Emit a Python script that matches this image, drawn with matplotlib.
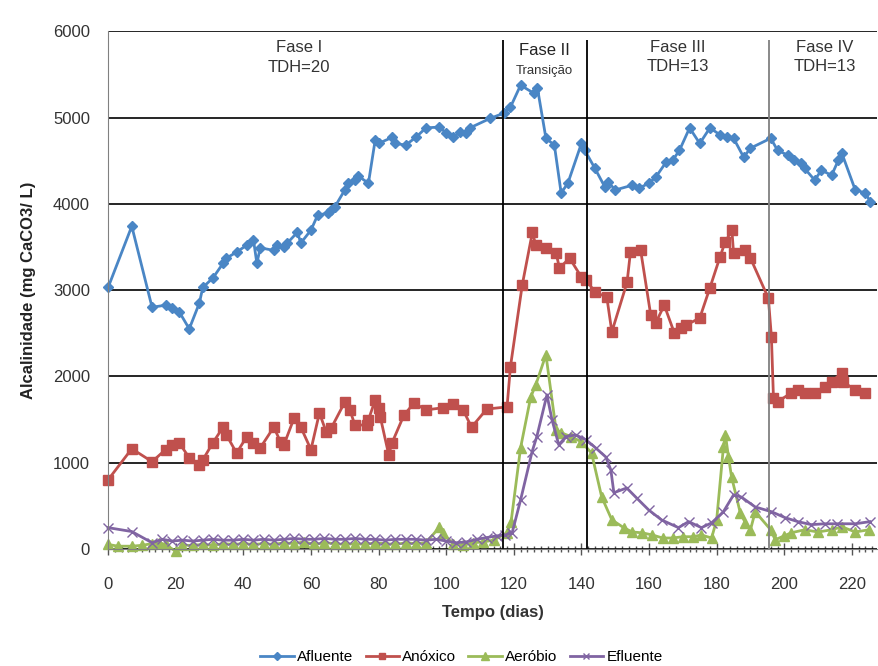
import matplotlib
matplotlib.use("Agg")
import matplotlib.pyplot as plt
from matplotlib.ticker import MultipleLocator

plt.rcParams['font.family'] = ['Liberation Sans', 'DejaVu Sans']

# dados
dias_af = [0, 7, 13, 17, 19, 21, 24, 27, 28, 31,
           34, 35, 38, 41, 43, 44, 45, 49, 50, 52,
           53, 56, 57, 60, 62, 65, 66, 67, 70, 71,
           73, 74, 77, 79, 80, 84, 85, 88, 91, 94,
           98, 100, 102, 104, 106, 107, 113, 117, 119, 122,
           126, 127, 129.5, 132, 134, 136, 140, 141, 144, 147,
           148, 150, 155, 157, 160, 162, 165, 167, 169, 172,
           175, 178, 181, 183, 185, 188, 190, 196, 198, 201,
           203, 205, 206, 209, 211, 214, 216, 217, 221, 224,
           225.5]
afluente = [3030, 3740, 2800, 2825, 2790, 2750, 2550, 2850, 3030, 3140,
            3310, 3370, 3440, 3520, 3580, 3310, 3490, 3460, 3520, 3500,
            3545, 3670, 3545, 3695, 3870, 3890, 3930, 3960, 4160, 4240,
            4275, 4320, 4240, 4740, 4700, 4770, 4700, 4680, 4770, 4880,
            4890, 4820, 4770, 4830, 4820, 4880, 4990, 5050, 5120, 5375,
            5280, 5340, 4760, 4680, 4125, 4240, 4700, 4620, 4410, 4190,
            4250, 4160, 4215, 4180, 4240, 4310, 4480, 4505, 4620, 4880,
            4700, 4880, 4800, 4770, 4760, 4540, 4645, 4760, 4620, 4565,
            4505, 4470, 4410, 4275, 4390, 4330, 4505, 4590, 4160, 4125,
            4020]

dias_an = [0, 7, 13, 17, 19, 21, 24, 27, 28, 31,
           34, 35, 38, 41, 43, 45, 49, 51, 52, 55,
           57, 60, 62.5, 64.5, 66, 70, 71.5, 73, 76.5, 77,
           79, 80, 80.5, 83, 84, 87.5, 90.5, 94, 99, 102,
           105, 107.5, 112, 118, 119, 122.5, 125.5, 126.5, 129.5, 132.5,
           133.5, 136.5, 140, 141.5, 144, 147.5, 149, 153.5, 154.5, 157.5,
           160.5, 162, 164.5, 167.5, 169.5, 171, 175, 178, 181, 182.5,
           184.5, 185, 188.5, 190, 195.3, 196.2, 196.8, 198, 202, 204,
           206, 209, 212, 214, 217, 217.5, 221, 224]
anoxico = [800, 1160, 1010, 1150, 1205, 1230, 1055, 975, 1030, 1230,
           1410, 1320, 1110, 1300, 1230, 1170, 1410, 1240, 1205, 1515,
           1410, 1150, 1575, 1355, 1400, 1700, 1610, 1435, 1435, 1495,
           1725, 1630, 1530, 1090, 1230, 1550, 1690, 1610, 1635, 1680,
           1610, 1410, 1620, 1645, 2110, 3060, 3670, 3520, 3490, 3430,
           3255, 3370, 3150, 3115, 2975, 2920, 2515, 3090, 3440, 3465,
           2710, 2620, 2825, 2500, 2560, 2595, 2675, 3025, 3385, 3555,
           3695, 3430, 3465, 3370, 2905, 2455, 1750, 1705, 1805, 1840,
           1805, 1805, 1875, 1935, 2040, 1935, 1840, 1805]

dias_ae = [0, 3, 7, 10, 13, 15, 17, 20, 22, 25,
           28, 31, 34, 37, 40, 43, 46, 49, 52, 55,
           58, 61, 64, 67, 70, 73, 76, 79, 82, 85,
           88, 91, 94, 98, 99, 102, 105, 108, 111, 114,
           118, 119.2, 122, 125, 126.5, 129.5, 132.5, 134, 137, 140,
           143, 146, 149, 152.5, 155, 158, 161, 164, 167, 170,
           173, 175.5, 178.5, 180, 182, 182.6, 183.5, 184.4, 187, 188.5,
           190, 191.4, 196, 197.3, 200, 202, 206, 210, 214, 217,
           221, 225]
aerobio = [50, 30, 30, 40, 60, 70, 50, -30, 40, 40,
           50, 40, 60, 50, 60, 50, 60, 50, 70, 60,
           80, 50, 70, 60, 50, 60, 50, 70, 60, 50,
           70, 60, 70, 250, 180, 60, 40, 70, 80, 100,
           185, 315, 1170, 1760, 1900, 2250, 1380, 1345, 1300, 1240,
           1110, 600, 335, 245, 195, 185, 160, 125, 125, 140,
           140, 160, 125, 335, 1180, 1320, 1065, 835, 415, 300,
           220, 430, 220, 105, 150, 185, 220, 195, 220, 255,
           195, 220]

dias_ef = [0, 7, 13, 16, 19, 22, 25, 28, 31, 34,
           37, 40, 43, 46, 49, 52, 55, 58, 61, 64,
           67, 70, 73, 76, 79, 82, 85, 88, 91, 94,
           97, 100, 103, 106, 109, 112, 115, 117.5, 119.5, 122,
           125.4, 126.8, 129.8, 131.3, 133.3, 135.4, 138.3, 141.3, 144.2, 147.2,
           148.7, 149.6, 153.4, 156.3, 159.9, 163.7, 168.7, 171.7, 175.5, 178.5,
           182, 185, 187.3, 191.4, 196.2, 200.3, 204, 208, 212, 215.5,
           221, 225.4]
efluente = [245, 200, 70, 110, 90, 100, 90, 100, 110, 100,
            100, 110, 100, 110, 100, 110, 120, 110, 110, 120,
            110, 110, 120, 110, 110, 100, 110, 110, 110, 100,
            110, 90, 70, 80, 110, 130, 150, 160, 185, 565,
            1125, 1300, 1785, 1495, 1205, 1300, 1320, 1265, 1170, 1065,
            915, 650, 705, 590, 450, 335, 245, 315, 245, 300,
            430, 625, 600, 485, 430, 360, 315, 280, 290, 290,
            290, 315]

fases = [116.8, 141.6, 195.6]
cores_fases = ['black', 'black', '#808080']

fig = plt.figure(figsize=(8.79, 6.66), dpi=100)
ax = fig.add_axes([0.123, 0.176, 0.875, 0.777])

ax.plot(dias_af, afluente, color='#4A86C5', marker='D', ms=5.5, lw=2, label='Afluente', clip_on=False)
ax.plot(dias_an, anoxico, color='#C0504D', marker='s', ms=6.5, lw=2, label='Anóxico', clip_on=False)
ax.plot(dias_ae, aerobio, color='#9BBB59', marker='^', ms=7.5, lw=2, label='Aeróbio', clip_on=False)
ax.plot(dias_ef, efluente, color='#8064A2', marker='x', ms=6.5, mew=1, lw=2, label='Efluente', clip_on=False)

for x, c in zip(fases, cores_fases):
    ax.vlines(x, 0, 5900, color=c, lw=1.3)

ax.text(56.5, 5695, 'Fase I\nTDH=20', ha='center', va='center', fontsize=12, color='#333333', linespacing=1.45)
ax.text(129, 5775, 'Fase II', ha='center', va='center', fontsize=12, color='#222222')
ax.text(129, 5540, 'Transição', ha='center', va='center', fontsize=9.5, color='#333333')
ax.text(168.5, 5705, 'Fase III\nTDH=13', ha='center', va='center', fontsize=12, color='#333333', linespacing=1.35)
ax.text(212, 5705, 'Fase IV\nTDH=13', ha='center', va='center', fontsize=12, color='#333333', linespacing=1.35)

ax.set_xlim(0, 227.5)
ax.set_ylim(0, 6000)
ax.xaxis.set_major_locator(MultipleLocator(20))
ax.xaxis.set_minor_locator(MultipleLocator(2))
ax.yaxis.set_major_locator(MultipleLocator(1000))
ax.grid(axis='y', color='black', lw=1.2)
ax.set_axisbelow(True)

ax.tick_params(axis='x', which='major', direction='inout', length=8, width=1, colors='#555555', labelsize=12, pad=16)
ax.tick_params(axis='x', which='minor', direction='inout', length=5, width=1, colors='#555555')
ax.tick_params(axis='y', length=0, labelsize=12, colors='#444444', pad=13)
for lbl in ax.get_xticklabels() + ax.get_yticklabels():
    lbl.set_color('#333333')

for s in ['top', 'right']:
    ax.spines[s].set_visible(False)
ax.spines['left'].set_color('#808080')
ax.spines['bottom'].set_color('#808080')

ax.set_xlabel('Tempo (dias)', fontsize=12, fontweight='bold', color='#333333', labelpad=10)
ax.set_ylabel('Alcalinidade (mg CaCO3/ L)', fontsize=12, fontweight='bold', color='#222222', labelpad=12)

fig.legend(loc='center', bbox_to_anchor=(0.525, 0.013), ncol=4, frameon=False, fontsize=11,
           handlelength=2.2, columnspacing=0.8, handletextpad=0.2, markerscale=0.7)

fig.savefig('out.png', dpi=100)
